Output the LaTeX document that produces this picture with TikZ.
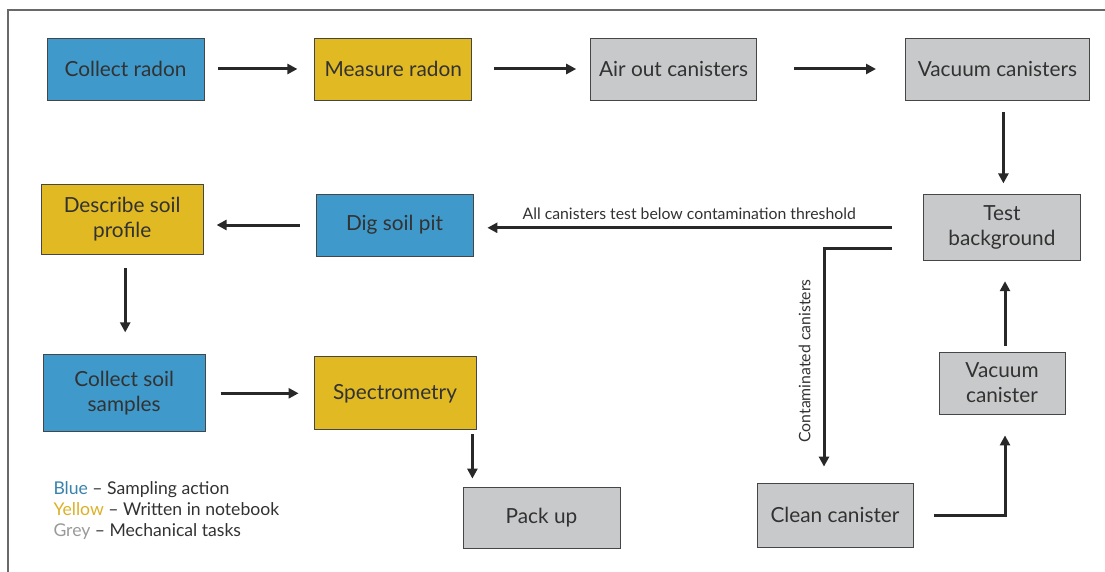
\documentclass[tikz,border=0pt]{standalone}
\usepackage{fontspec}
\setmainfont{Lato}
\usetikzlibrary{arrows.meta,positioning}

\definecolor{sampleblue}{RGB}{63,154,203}
\definecolor{noteyellow}{RGB}{225,185,35}
\definecolor{mechgrey}{RGB}{200,201,202}
\definecolor{boxline}{RGB}{70,70,70}
\definecolor{inkgrey}{RGB}{50,50,50}
\definecolor{framegrey}{RGB}{105,105,105}

\tikzset{
  task/.style={draw=boxline,line width=0.8pt,minimum width=157pt,minimum height=62pt,
    inner sep=0pt,align=center,text=inkgrey,font=\fontsize{20.8}{25}\selectfont},
  sampling/.style={task,fill=sampleblue},
  notebook/.style={task,fill=noteyellow},
  mechanical/.style={task,fill=mechgrey},
  small label/.style={text=inkgrey,font=\fontsize{15.8}{18}\selectfont}
}

\begin{document}
\begin{tikzpicture}[x=1pt,y=-1pt,->,>={Triangle[length=10pt,width=10pt]},
  line width=3pt,draw=inkgrey!80!black]

  \useasboundingbox (0,0) rectangle (1105,572);
  \draw[-,framegrey,line width=2pt] (1105,10) -- (8,10) -- (8,572);

  % first row
  \node[sampling]   (radon)    at (125.5,69)          {Collect radon};
  \node[notebook]   (measure)  [right=110pt of radon]   {Measure radon};
  \node[mechanical,minimum width=166pt] (airout)  [right=118pt of measure] {Air out canisters};
  \node[mechanical,minimum width=184pt] (vacuums) [right=148pt of airout]  {Vacuum canisters};
  \node[mechanical,minimum height=66pt] (testbg)  [below=94pt of vacuums,xshift=4.5pt] {Test\\background};

  % soil part
  \node[sampling]   (dig)      at (394.5,225)         {Dig soil pit};
  \node[notebook,minimum width=162pt,minimum height=70pt] (describe) [left=112pt of dig,yshift=6pt] {Describe soil\\profile};
  \node[sampling,minimum width=162pt,minimum height=77pt] (soil) [below=100pt of describe,xshift=2pt] {Collect soil\\samples};
  \node[notebook,minimum width=162pt,minimum height=73pt] (spectro) [right=108pt of soil] {Spectrometry};
  \node[mechanical,minimum height=61pt] (packup) at (541.5,517.5) {Pack up};

  % cleaning loop
  \node[mechanical,minimum width=156pt,minimum height=64pt] (clean) at (835,515) {Clean canister};
  \node[mechanical,minimum width=126pt] (vacuum1) at (1002,383) {Vacuum\\canister};

  \coordinate (contam) at ([xshift=-31pt,yshift=-21pt]testbg.west);

  \path (radon)   edge[shorten <=14pt,shorten >=17pt] (measure)
        (measure) edge[shorten <=22pt,shorten >=14pt] (airout)
        (airout)  edge[shorten <=37pt,shorten >=29pt] (vacuums)
        (soil)    edge[shorten <=15pt,shorten >=15pt] (spectro);

  \draw[shorten <=12pt,shorten >=11pt] ([xshift=6pt]vacuums.south) -- ([xshift=6pt]vacuums.south |- testbg.north);
  \draw[shorten <=31pt,shorten >=14pt] (testbg.west) -- (testbg.west -| dig.east)
    node[pos=.52,above=3pt,small label,draw=none] {All canisters test below contamination threshold};
  \draw[shorten <=16pt,shorten >=13pt] (dig.west) -- (dig.west -| describe.east);
  \draw[shorten <=14pt,shorten >=22pt] ([xshift=3pt]describe.south) -- ([xshift=3pt]describe.south |- soil.north);
  \draw[shorten <=4pt,shorten >=8pt] ([xshift=-4pt]spectro.south east) -- ([xshift=-4pt]spectro.south east |- packup.north);
  \draw[shorten >=16pt] (contam) -| ([xshift=-11pt]clean.north)
    node[pos=.74,rotate=90,anchor=south,inner sep=12pt,small label,draw=none] {Contaminated canisters};
  \draw[shorten <=21pt,shorten >=21pt] (clean.east) -| ([xshift=3pt]vacuum1.south);
  \draw[shorten <=6pt,shorten >=20pt] ([xshift=3pt]vacuum1.north) -- ([xshift=3pt]vacuum1.north |- testbg.south);

  % legend
  \node[anchor=north west,align=left,inner sep=0pt,text=inkgrey,
    font=\fontsize{17.6}{21}\selectfont] (legend) at (52,480)
    {\textcolor{sampleblue!85!black}{Blue} -- Sampling action\\
     \textcolor{noteyellow!85!brown}{Yellow} -- Written in notebook\\
     \textcolor{gray!80}{Grey} -- Mechanical tasks};
\end{tikzpicture}
\end{document}
